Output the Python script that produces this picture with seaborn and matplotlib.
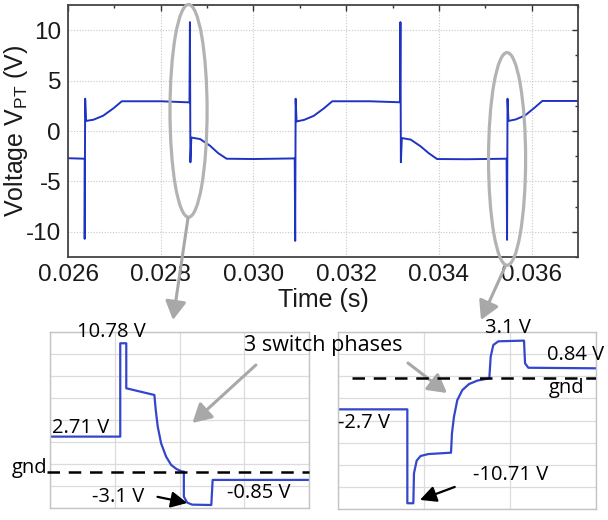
import matplotlib
matplotlib.use("Agg")
import matplotlib.pyplot as plt
from matplotlib.patches import Ellipse, FancyArrowPatch
from matplotlib.ticker import MultipleLocator, FormatStrFormatter
import numpy as np
import pandas as pd
import seaborn as sns

# ── Scope trace V_PT(t) ──────────────────────────────────────────────────────
T_MAIN = [0.02600, 0.02636, 0.02636, 0.02637, 0.02639, 0.02655, 0.02676, 0.02698,
          0.02716, 0.02800, 0.02862, 0.02863, 0.02864, 0.02866, 0.02885, 0.02906,
          0.02924, 0.02942, 0.03000, 0.03089, 0.03090, 0.03091, 0.03093, 0.03109,
          0.03130, 0.03152, 0.03170, 0.03250, 0.03316, 0.03317, 0.03318, 0.03320,
          0.03339, 0.03360, 0.03378, 0.03396, 0.03460, 0.03546, 0.03547, 0.03548,
          0.03550, 0.03566, 0.03586, 0.03606, 0.03623, 0.03700]
V_MAIN = [-2.70, -2.75, -10.7, 3.2, 1.0, 1.12, 1.52, 2.25,
          2.95, 2.95, 2.84, 10.8, -3.1, -0.65, -0.8, -1.45,
          -2.2, -2.75, -2.78, -2.72, -10.9, 3.2, 0.95, 1.1,
          1.5, 2.25, 2.95, 2.95, 2.85, 10.8, -3.1, -0.7,
          -0.85, -1.5, -2.2, -2.78, -2.8, -2.75, -10.8, 3.2,
          1.0, 1.15, 1.55, 2.3, 2.98, 2.98]

# ── Zoomed switching events (x in scope divisions) ───────────────────────────
X_FALL = [0.0, 1.085, 1.085, 1.178, 1.178, 1.395, 1.612, 1.633, 1.664, 1.716,
          1.793, 1.871, 1.953, 2.041, 2.067, 2.067, 2.119, 2.196, 2.491, 2.512, 4.0]
V_FALL = [2.92, 2.92, 10.7, 10.7, 6.95, 6.67, 6.39, 5.14, 3.75, 2.36,
          1.25, 0.56, 0.22, 0.01, 0.01, -2.08, -2.58, -2.75, -2.78, -0.69, -0.69]

X_RISE = [0.0, 1.075, 1.075, 1.168, 1.178, 1.22, 1.28, 1.40, 1.752, 1.767, 1.798,
          1.85, 1.928, 2.031, 2.16, 2.346, 2.367, 2.408, 2.486, 2.884, 2.9, 2.951, 4.0]
V_RISE = [-2.70, -2.70, -10.87, -10.87, -8.26, -7.16, -6.76, -6.59, -6.47, -4.78, -3.34,
          -1.89, -1.02, -0.5, -0.2, 0.0, 1.88, 2.9, 3.22, 3.28, 1.3, 0.92, 0.87]

# circled events in the main trace (s, V)
CIRCLE_T = [0.02860, 0.03547]
CIRCLE_V = [2.0, -2.77]

FALL_LABELS = ["10.78 V", "2.71 V", "-3.1 V", "-0.85 V"]
RISE_LABELS = ["3.1 V", "0.84 V", "-2.7 V", "-10.71 V"]

BLUE = "#1f33c2"
GRAY = "#b3b3b3"

sns.set_theme(style="white")
plt.rcParams["font.family"] = ["Liberation Sans", "DejaVu Sans"]
plt.rcParams["axes.unicode_minus"] = False
plt.rcParams["mathtext.default"] = "regular"
NOTE = dict(family=["Open Sans", "DejaVu Sans"], fontsize=14.5, color="black")

fig = plt.figure(figsize=(6.08, 5.2), dpi=100)
W, H = 608.0, 520.0


def fig_ax(x0, y0, x1, y1):
    return fig.add_axes([x0 / W, 1 - y1 / H, (x1 - x0) / W, (y1 - y0) / H])


# ── main scope view ──────────────────────────────────────────────────────────
ax = fig_ax(68, 5, 578, 257)
main_df = pd.DataFrame({"t": T_MAIN, "v": V_MAIN})
sns.lineplot(data=main_df, x="t", y="v", sort=False, estimator=None,
             color=BLUE, lw=1.4, ax=ax)
ax.set_xlim(0.026, 0.037)
ax.set_ylim(-12.5, 12.5)
ax.xaxis.set_major_locator(MultipleLocator(0.002))
ax.xaxis.set_minor_locator(MultipleLocator(0.001))
ax.xaxis.set_major_formatter(FormatStrFormatter("%.3f"))
ax.yaxis.set_major_locator(MultipleLocator(5))
ax.yaxis.set_minor_locator(MultipleLocator(2.5))
ax.tick_params(which="both", direction="in", top=True, right=True,
               labelsize=17.5, colors="#333333", labelcolor="#1a1a1a")
ax.tick_params(which="major", length=4, width=1, pad=5)
ax.tick_params(which="minor", length=2.5, width=1)
ax.grid(True, which="major", color="#c8c8c8", lw=0.8, ls=(0, (1, 1.5)))
for s in ax.spines.values():
    s.set_color("#444444")
    s.set_linewidth(1.3)
ax.set_xlabel("Time (s)", fontsize=18, color="#1a1a1a")
ax.set_ylabel("Voltage V$_{PT}$ (V)", fontsize=18, color="#1a1a1a")
ax.xaxis.set_label_coords(0.5, -0.125)
ax.yaxis.set_label_coords(-0.074, 0.5)

for t, v in zip(CIRCLE_T, CIRCLE_V):
    ax.add_patch(Ellipse((t, v), 0.0008, 21.1, fill=False, ec=GRAY, lw=2.3,
                         clip_on=False, zorder=5))

gray_arrow = dict(arrowstyle="-|>,head_length=0.8,head_width=0.45",
                  mutation_scale=14, color="#a8a8a8", lw=2.2, shrinkA=0, shrinkB=0)
for (x0, y0), (x1, y1) in [((188, 218), (173, 320)), ((505, 267), (481, 320))]:
    fig.add_artist(FancyArrowPatch((x0 / W, 1 - y0 / H), (x1 / W, 1 - y1 / H),
                                   transform=fig.transFigure, **gray_arrow))


def zoom_axes(axz, x, v, nx, ylim):
    df = pd.DataFrame({"x": x, "v": v})
    sns.lineplot(data=df, x="x", y="v", sort=False, estimator=None,
                 color="#3346cc", lw=1.6, ax=axz)
    axz.set_xlim(0, 4)
    axz.set_ylim(*ylim)
    axz.set_xticks(np.linspace(0, 4, nx + 1))
    axz.set_yticks(np.linspace(ylim[0], ylim[1], 9))
    axz.grid(True, color="#dcdcdc", lw=0.9)
    axz.tick_params(length=0, labelleft=False, labelbottom=False)
    axz.set_xlabel("")
    axz.set_ylabel("")
    for s in axz.spines.values():
        s.set_color("#c4c4c4")
        s.set_linewidth(1.0)


black_arrow = dict(arrowstyle="-|>,head_length=0.7,head_width=0.35",
                   mutation_scale=14, color="black", lw=1.6, shrinkA=0, shrinkB=0)

# ── left zoom: falling edge ──────────────────────────────────────────────────
axl = fig_ax(50, 332, 309, 508)
zoom_axes(axl, X_FALL, V_FALL, 4, (-3.03, 11.64))
axl.axhline(0, xmin=-0.01, xmax=1, color="black", lw=1.8, ls=(0, (5, 3.5)),
            clip_on=False, zorder=4)
axl.text(0.946, 11.64, FALL_LABELS[0], ha="center", va="center", **NOTE)
axl.text(0.03, 3.64, FALL_LABELS[1], ha="left", va="center", **NOTE)
axl.text(1.047, -2.1, FALL_LABELS[2], ha="center", va="center", **NOTE)
axl.text(3.22, -1.78, FALL_LABELS[3], ha="center", va="center", **NOTE)
axl.text(-0.047, 0.31, "gnd", ha="right", va="center", **NOTE)
axl.annotate("", xy=(2.12, -2.61), xytext=(1.66, -2.1), arrowprops=black_arrow)
axl.annotate("", xy=(2.2, 4.06), xytext=(3.18, 8.89), arrowprops=gray_arrow)

# ── right zoom: rising edge ──────────────────────────────────────────────────
axr = fig_ax(338, 332, 596, 509)
zoom_axes(axr, X_RISE, V_RISE, 3, (-11.37, 4.03))
axr.axhline(0, xmin=0.055, xmax=1, color="black", lw=1.8, ls=(0, (5, 3.5)), zorder=4)
axr.text(2.63, 4.37, RISE_LABELS[0], ha="center", va="center", **NOTE)
axr.text(3.68, 2.03, RISE_LABELS[1], ha="center", va="center", **NOTE)
axr.text(0.40, -3.89, RISE_LABELS[2], ha="center", va="center", **NOTE)
axr.text(2.68, -8.41, RISE_LABELS[3], ha="center", va="center", **NOTE)
axr.text(3.54, -0.84, "gnd", ha="center", va="center", **NOTE)
axr.annotate("", xy=(1.27, -10.58), xytext=(1.81, -9.45), arrowprops=black_arrow)
axr.annotate("", xy=(1.69, -1.28), xytext=(1.085, 1.33), arrowprops=gray_arrow)

fig.text(323.5 / W, 1 - 345 / H, "3 switch phases", ha="center", va="center",
         **dict(NOTE, fontsize=15.5))

fig.savefig("out.png", dpi=100)
